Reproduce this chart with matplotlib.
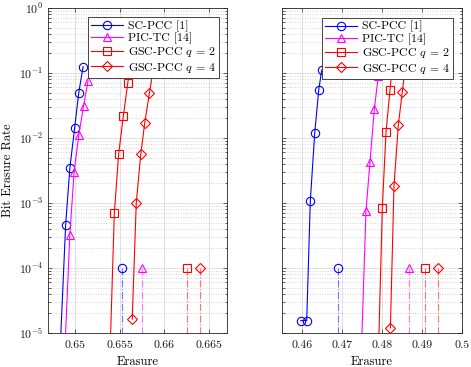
import matplotlib
matplotlib.use("Agg")
import matplotlib.pyplot as plt
import numpy as np
from matplotlib.ticker import LogLocator, NullFormatter

plt.rcParams['font.family'] = ['cmr10']
plt.rcParams['mathtext.fontset'] = 'cm'
plt.rcParams['axes.formatter.use_mathtext'] = True
plt.rcParams['axes.unicode_minus'] = False

labels = ['SC-PCC [1]', 'PIC-TC [14]', r'GSC-PCC $q\,=\,2$', r'GSC-PCC $q\,=\,4$']
colors = ['#0000ff', '#ff00ff', '#ff0000', '#ff0000']
markers = ['o', '^', 's', 'D']

# ---- left panel data ----
left_sc_x = [0.65092, 0.65044, 0.64997, 0.64944, 0.64897, 0.64828]
left_sc_y = [0.125, 0.0498, 0.0141, 0.00342, 0.000459, 3.2e-6]
left_pic_x = [0.65148, 0.65097, 0.65044, 0.64992, 0.64944, 0.64881]
left_pic_y = [0.0762, 0.0310, 0.0110, 0.00303, 0.000322, 3.2e-6]
left_q2_x = [0.65646, 0.65592, 0.65541, 0.65489, 0.65441, 0.65389]
left_q2_y = [0.25, 0.0710, 0.0216, 0.00561, 0.000695, 3.2e-6]
left_q4_x = [0.65903, 0.65833, 0.65781, 0.65737, 0.65686, 0.65641]
left_q4_y = [0.2, 0.0488, 0.0172, 0.00567, 0.000989, 1.63e-5]
left_thr_x = [0.65522, 0.65750, 0.66252, 0.66400]
left_xticks = [0.65, 0.655, 0.66, 0.665]
left_xticklabels = ['0.65', '0.655', '0.66', '0.665']
left_xlim = (0.647, 0.667)

# ---- right panel data ----
right_sc_x = [0.46493, 0.46418, 0.46318, 0.46208, 0.46118, 0.45968]
right_sc_y = [0.111, 0.0547, 0.0119, 0.00108, 1.55e-5, 1.55e-5]
right_pic_x = [0.48015, 0.47908, 0.47808, 0.47700, 0.47600, 0.47473]
right_pic_y = [0.316, 0.0899, 0.0277, 0.00431, 0.000762, 3.2e-6]
right_q2_x = [0.48302, 0.48200, 0.48100, 0.48008, 0.47903]
right_q2_y = [0.25, 0.0547, 0.01225, 0.000847, 3.2e-6]
right_q4_x = [0.48623, 0.48508, 0.48408, 0.48300, 0.48210]
right_q4_y = [0.2, 0.0515, 0.0158, 0.00185, 1.2e-5]
right_thr_x = [0.46900, 0.48668, 0.49075, 0.49400]
right_xticks = [0.46, 0.47, 0.48, 0.49, 0.5]
right_xticklabels = ['0.46', '0.47', '0.48', '0.49', '0.5']
right_xlim = (0.455, 0.5)

thr_y = 1e-4
ylim = (1e-5, 1.0)

W, H = 471, 367
fig = plt.figure(figsize=(W / 100, H / 100), dpi=100)
axL = fig.add_axes([48 / W, 1 - 333 / H, 179 / W, 325 / H])
axR = fig.add_axes([282 / W, 1 - 333 / H, 180 / W, 325 / H])

spine_col = '#262626'

def msize(m):
    return {'o': 6.0, '^': 6.0, 's': 5.6, 'D': 5.2}[m]

def draw(ax, series, thr_x, xlim, xticks, xticklabels, show_ylabels, leg_anchor):
    ax.set_yscale('log')
    handles = []
    for (xs, ys), c, m, lab in zip(series, colors, markers, labels):
        h, = ax.plot(xs, ys, color=c, marker=m, ms=msize(m), mfc='none', mec=c,
                     mew=0.8, lw=0.8, label=lab, zorder=3)
        handles.append(h)
    for x, c, m in zip(thr_x, colors, markers):
        ax.plot([x, x], [thr_y, 1e-6], color=c, ls='-.', lw=0.8, alpha=0.55, zorder=3)
        ax.plot([x], [thr_y], color=c, marker=m, ms=msize(m), mfc='none', mec=c, mew=0.8,
                ls='none', zorder=3)
    ax.set_xlim(*xlim)
    ax.set_ylim(*ylim)
    ax.set_xticks(xticks)
    ax.set_xticklabels(xticklabels)
    ax.yaxis.set_major_locator(LogLocator(base=10, numticks=10))
    ax.yaxis.set_minor_locator(LogLocator(base=10, subs=np.arange(2, 10), numticks=20))
    ax.yaxis.set_minor_formatter(NullFormatter())
    if not show_ylabels:
        ax.set_yticklabels([])
    ax.grid(True, which='major', color='#dadada', lw=0.6, ls='-')
    ax.grid(True, which='minor', axis='y', color='#c8c8c8', lw=0.6, ls=(0, (1, 2)))
    ax.set_axisbelow(True)
    ax.tick_params(which='both', direction='in', top=True, right=True,
                   colors=spine_col, labelcolor='#1a1a1a', labelsize=8.5, width=0.5)
    ax.tick_params(which='major', length=3)
    ax.tick_params(which='minor', length=1.8)
    ax.tick_params(axis='x', which='major', pad=5.5)
    for s in ax.spines.values():
        s.set_color(spine_col)
        s.set_linewidth(0.6)
    ax.set_xlabel('Erasure', fontsize=9, labelpad=4)
    leg = ax.legend(handles=handles, loc='upper right', bbox_to_anchor=leg_anchor,
                    borderaxespad=0, fontsize=8.6, handlelength=2.65, handletextpad=0.45,
                    labelspacing=0.1, borderpad=0.25, fancybox=False, framealpha=1,
                    edgecolor=spine_col)
    leg.get_frame().set_linewidth(0.6)
    leg.set_zorder(10)

draw(axL, [(left_sc_x, left_sc_y), (left_pic_x, left_pic_y), (left_q2_x, left_q2_y),
           (left_q4_x, left_q4_y)], left_thr_x, left_xlim, left_xticks, left_xticklabels,
     True, (0.955, 0.972))
draw(axR, [(right_sc_x, right_sc_y), (right_pic_x, right_pic_y), (right_q2_x, right_q2_y),
           (right_q4_x, right_q4_y)], right_thr_x, right_xlim, right_xticks, right_xticklabels,
     False, (0.95, 0.969))
axL.set_ylabel('Bit Erasure Rate', fontsize=9, labelpad=3)

fig.savefig('out.png', dpi=100)
